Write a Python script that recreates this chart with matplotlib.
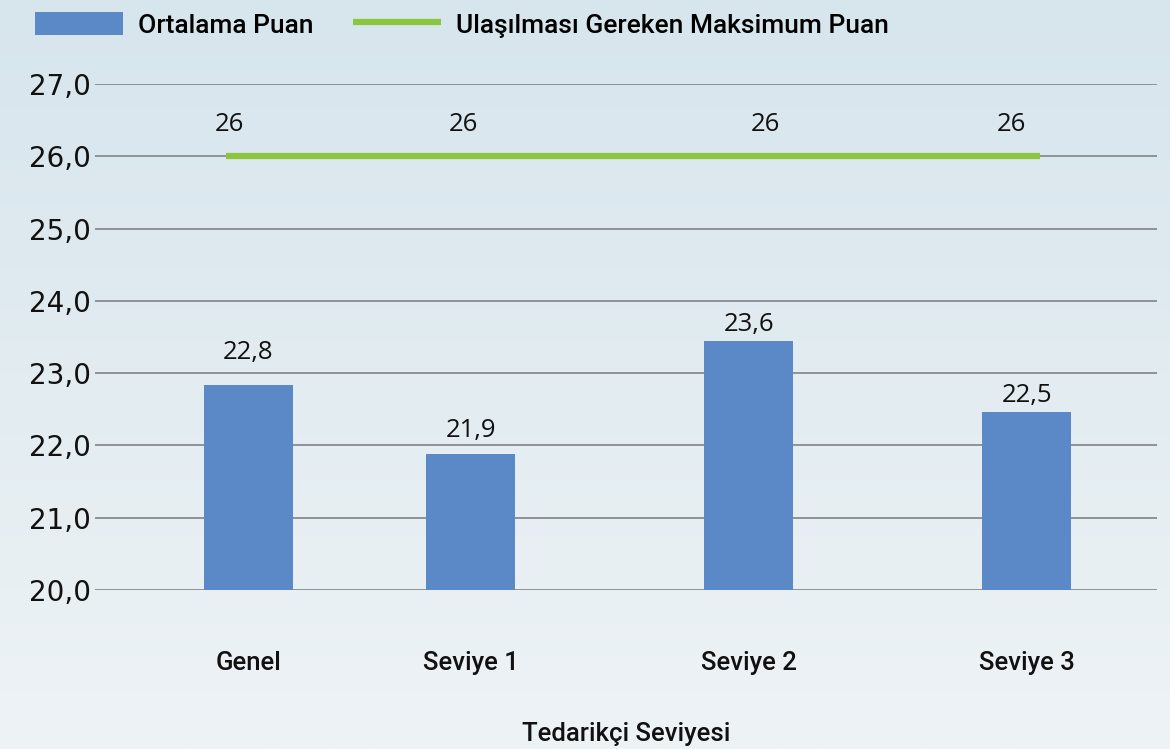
import numpy as np
import matplotlib.pyplot as plt
from matplotlib.colors import LinearSegmentedColormap

# data
categories = ["Genel", "Seviye 1", "Seviye 2", "Seviye 3"]
avg_score = [22.84, 21.88, 23.44, 22.46]
avg_labels = ["22,8", "21,9", "23,6", "22,5"]
max_score = [26, 26, 26, 26]
max_labels = ["26", "26", "26", "26"]
yticks = [20, 21, 22, 23, 24, 25, 26, 27]

# layout (x positions in axis units, offsets in points)
bar_pos = [0.0, 0.8, 1.8, 2.8]
line_pos = [-0.081, 0.895, 1.871, 2.847]
line_label_pos = [-0.067, 0.772, 1.858, 2.746]
bar_label_off = [14, 8, 3, 3]

BLUE = "#5b88c6"
GREEN = "#8cc63f"
GRID = "#8e9296"
FONT = ["Roboto", "DejaVu Sans"]
VFONT = ["Open Sans", "DejaVu Sans"]

fig = plt.figure(figsize=(11.7, 7.49), dpi=100)

# watery background
bg = fig.add_axes([0, 0, 1, 1], zorder=-10)
cmap = LinearSegmentedColormap.from_list("sea", ["#d7e5ed", "#e2ecf1", "#eef3f6"])
grad = np.linspace(0, 1, 256).reshape(-1, 1)
bg.imshow(grad, aspect="auto", cmap=cmap, extent=[0, 1, 0, 1], origin="upper")
bg.axis("off")

ax = fig.add_axes([95 / 1170, 1 - 590 / 749, (1157 - 95) / 1170, (590 - 84) / 749])
ax.set_facecolor("none")

bars = ax.bar(bar_pos, avg_score, width=0.32, color=BLUE, zorder=3,
              label="Ortalama Puan")
for b, lab, off in zip(bars, avg_labels, bar_label_off):
    ax.annotate(lab, (b.get_x() + b.get_width() / 2, b.get_height()),
                xytext=(0, off), textcoords="offset points",
                ha="center", va="bottom", fontsize=18.5, family=VFONT,
                color="#111111")

ax.plot(line_pos, max_score, color=GREEN, lw=4.5, solid_capstyle="butt",
        zorder=4, label="Ulaşılması Gereken Maksimum Puan")
for x, y, lab in zip(line_label_pos, max_score, max_labels):
    ax.annotate(lab, (x, y), xytext=(0, 14), textcoords="offset points",
                ha="center", va="bottom", fontsize=18.5, family=VFONT,
                color="#111111")

ax.set_ylim(20, 27)
ax.set_xlim(-0.552, 3.268)
ax.set_yticks(yticks)
ax.set_yticklabels([f"{v:.1f}".replace(".", ",") for v in yticks],
                   family=["DejaVu Sans"], fontsize=20, color="#111111")
ax.yaxis.grid(True, color=GRID, lw=1.4, zorder=0)
ax.set_axisbelow(True)
ax.tick_params(axis="y", length=0, pad=3)
ax.set_xticks(bar_pos)
ax.set_xticklabels(categories, family=FONT, fontsize=18.5, color="#111111",
                   fontweight="medium")
ax.tick_params(axis="x", length=0, pad=44)
ax.set_xlabel("Tedarikçi Seviyesi", family=FONT, fontsize=18.5,
              color="#111111", labelpad=34, fontweight="medium")
for s in ax.spines.values():
    s.set_visible(False)

h, l = ax.get_legend_handles_labels()
fig.legend(h[::-1], l[::-1], loc="upper left",
           bbox_to_anchor=(11 / 1170, 1.0156), ncol=2,
           frameon=False, prop={"family": FONT, "size": 19, "weight": "medium"},
           handlelength=3.33, handleheight=0.95, handletextpad=0.57,
           columnspacing=1.5)

fig.savefig("out.png", dpi=100)
